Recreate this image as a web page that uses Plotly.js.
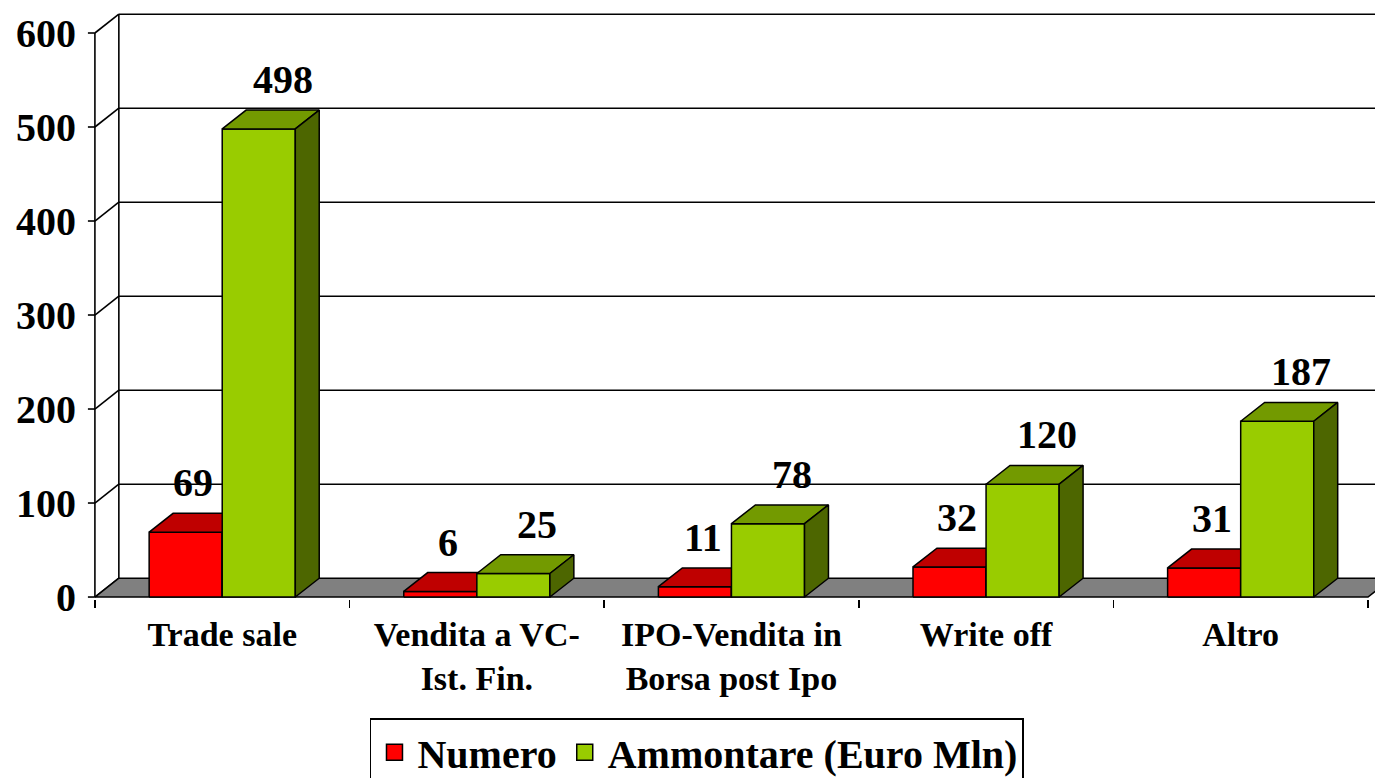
<!DOCTYPE html>
<html>
<head>
<meta charset="utf-8">
<script src="https://cdn.plot.ly/plotly-3.0.1.min.js"></script>
<style>
  html, body { margin: 0; padding: 0; background: #fff; }
  #chart { width: 1375px; height: 778px; }
</style>
</head>
<body>
<div id="chart"></div>
<script>
// ---- data ----
const categories = ['Trade sale', 'Vendita a VC-<br>Ist. Fin.', 'IPO-Vendita in<br>Borsa post Ipo', 'Write off', 'Altro'];
const numero = [69, 6, 11, 32, 31];
const ammontare = [498, 25, 78, 120, 187];
const seriesNames = ['Numero', 'Ammontare (Euro Mln)'];
const yTickVals = [0, 100, 200, 300, 400, 500, 600];
const yTickText = ['0', '100', '200', '300', '400', '500', '600'];

// ---- style / geometry ----
const FONT = '"Liberation Serif", "Times New Roman", Times, serif';
const frontColors = ['#FF0000', '#99CC00'];
const topColors = ['#BF0000', '#739A00'];
const sideColors = ['#800000', '#4D6600'];
const barW = 0.287;      // width of one bar, in category units
const DX = 0.094;        // depth offset along x (category units)
const DY = 20;           // depth offset along y (value units)
const labelShift = [0.03, 0.094];
const X0 = -0.535, X1 = 4.5275;
const Y0 = -2.1, Y1 = 635.1;

const series = [numero, ammontare];
const traces = [];

// back wall gridlines + left wall
(function () {
  const xs = [], ys = [];
  yTickVals.forEach(t => {
    if (t > 0) { xs.push(-0.5 + DX, X1 + 1, null); ys.push(t + DY, t + DY, null); }
    xs.push(-0.5, -0.5 + DX, null); ys.push(t, t + DY, null);
    xs.push(-0.5 - 0.0275, -0.5, null); ys.push(t, t, null); // tick marks
  });
  xs.push(-0.5 + DX, -0.5 + DX, null); ys.push(DY, 600 + DY, null);
  xs.push(-0.5, -0.5, null); ys.push(0, 600, null);
  traces.push({ type: 'scatter', mode: 'lines', x: xs, y: ys, line: { color: '#000', width: 1.6 },
    hoverinfo: 'skip', showlegend: false });
})();

// floor
traces.push({ type: 'scatter', mode: 'lines', fill: 'toself', fillcolor: '#808080',
  x: [-0.5, 4.5, 4.5 + DX, X1 + 1, X1 + 1, -0.5 + DX, -0.5],
  y: [0, 0, DY, DY, DY, DY, 0],
  line: { color: '#000', width: 1.6 }, hoverinfo: 'skip', showlegend: false });

// bars as 3D boxes
series.forEach((vals, s) => {
  const fx = [], fy = [], tx = [], ty = [], sx = [], sy = [];
  vals.forEach((v, i) => {
    const xL = i - barW + s * barW, xR = xL + barW;
    fx.push(xL, xR, xR, xL, xL, null); fy.push(0, 0, v, v, 0, null);
    tx.push(xL, xR, xR + DX, xL + DX, xL, null); ty.push(v, v, v + DY, v + DY, v, null);
    sx.push(xR, xR + DX, xR + DX, xR, xR, null); sy.push(0, DY, v + DY, v, 0, null);
  });
  const common = { type: 'scatter', mode: 'lines', fill: 'toself', line: { color: '#000', width: 1.5 },
    showlegend: false, hoverinfo: 'skip' };
  traces.push(Object.assign({}, common, { x: fx, y: fy, fillcolor: frontColors[s] }));
  traces.push(Object.assign({}, common, { x: tx, y: ty, fillcolor: topColors[s] }));
  traces.push(Object.assign({}, common, { x: sx, y: sy, fillcolor: sideColors[s] }));
});

// legend entries
series.forEach((vals, s) => {
  traces.push({ type: 'scatter', mode: 'markers', x: [null], y: [null], name: seriesNames[s],
    marker: { symbol: 'square', size: 27, color: frontColors[s], line: { color: '#000', width: 1.5 } } });
});

// value labels
const annotations = [];
series.forEach((vals, s) => {
  vals.forEach((v, i) => {
    const xc = i - barW + s * barW + barW / 2;
    annotations.push({ x: xc + labelShift[s], y: v + DY, xref: 'x', yref: 'y', text: String(v),
      showarrow: false, yanchor: 'bottom', yshift: 6,
      font: { family: FONT, size: 40, color: '#000', weight: 'bold' } });
  });
});

const layout = {
  width: 1375, height: 778,
  margin: { l: 86, r: 0, t: 0, b: 179, autoexpand: false },
  paper_bgcolor: '#fff', plot_bgcolor: '#fff',
  font: { family: FONT, color: '#000' },
  showlegend: true,
  xaxis: {
    range: [X0, X1], tickmode: 'array', tickvals: [0, 1, 2, 3, 4], ticktext: categories,
    ticks: '', showgrid: false, zeroline: false, showline: false,
    ticklabelstandoff: 12,
    tickfont: { family: FONT, size: 34, color: '#000', weight: 'bold' },
    minor: { tickmode: 'linear', tick0: -0.5, dtick: 1, ticks: 'outside', ticklen: 8, tickwidth: 1.6, tickcolor: '#000', showgrid: false }
  },
  yaxis: {
    range: [Y0, Y1], tickmode: 'array', tickvals: yTickVals, ticktext: yTickText,
    ticks: '', showgrid: false, zeroline: false, showline: false,
    ticklabelstandoff: 9,
    tickfont: { family: FONT, size: 40, color: '#000', weight: 'bold' }
  },
  legend: {
    orientation: 'h', x: 0.474, xanchor: 'center', y: -0.199, yanchor: 'top',
    itemwidth: 36, itemsizing: 'trace',
    bordercolor: '#000', borderwidth: 1.5, bgcolor: '#fff',
    font: { family: FONT, size: 40, color: '#000', weight: 'bold' }
  },
  annotations: annotations
};

Plotly.newPlot('chart', traces, layout, { displayModeBar: false, staticPlot: true });
</script>
</body>
</html>
